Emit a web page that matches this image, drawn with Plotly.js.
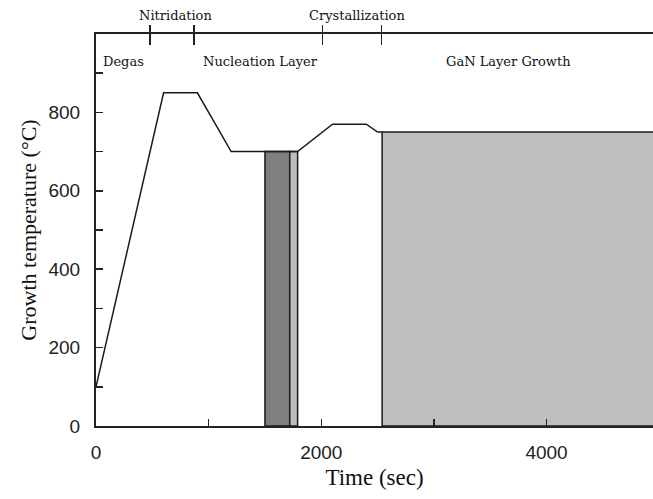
<!DOCTYPE html>
<html>
<head>
<meta charset="utf-8">
<script src="https://cdn.plot.ly/plotly-3.0.1.min.js"></script>
<style>
  html, body { margin: 0; padding: 0; background: #fff; overflow: hidden; }
  #chart { width: 653px; height: 499px; }
</style>
</head>
<body>
<div id="chart"></div>
<script>
// Growth temperature profile (sec, °C)
const profileTime = [0, 600, 900, 1200, 1500, 1720, 1790, 2100, 2400, 2500, 2540];
const profileTemp = [100, 850, 850, 700, 700, 700, 700, 770, 770, 750, 750];

// Shaded growth steps: [start, end] in sec and their temperature
const nucleationStart = [1500, 1720];
const nucleationTemp = 700;
const annealStart = [1720, 1790];
const annealTemp = 700;
const ganStart = [2540, 5000];
const ganTemp = 750;

// Stage boundaries marked on the top axis
const stageBoundaries = [480, 870, 2010, 2535];

// Stage labels
const lowerStages = ["Degas", "Nucleation Layer", "GaN Layer Growth"];
const lowerStageX = [240, 1460, 3660];
const upperStages = ["Nitridation", "Crystallization"];
const upperStageX = [710, 2315];

const xRange = [0, 4945];
const yRange = [0, 1000];

function block(span, temp, color) {
  return {
    x: [span[0], span[0], span[1], span[1], span[0]],
    y: [0, temp, temp, 0, 0],
    type: "scatter",
    mode: "lines",
    fill: "toself",
    fillcolor: color,
    line: { color: "#1a1a1a", width: 1.5 },
    hoverinfo: "skip",
    showlegend: false
  };
}

const traces = [
  block(ganStart, ganTemp, "#bebebe"),
  block(nucleationStart, nucleationTemp, "#7f7f7f"),
  block(annealStart, annealTemp, "#bebebe"),
  {
    x: profileTime,
    y: profileTemp,
    type: "scatter",
    mode: "lines",
    line: { color: "#1a1a1a", width: 1.5 },
    showlegend: false
  },
  // invisible traces to anchor the top overlay axes
  { x: xRange, y: [null, null], xaxis: "x2", yaxis: "y", mode: "lines", showlegend: false, hoverinfo: "skip" },
  { x: xRange, y: [null, null], xaxis: "x3", yaxis: "y", mode: "lines", showlegend: false, hoverinfo: "skip" }
];

const serifLabel = { family: "DejaVu Serif", size: 13, color: "#111" };

const annotations = [];
lowerStages.forEach((t, i) => annotations.push({
  text: t, x: lowerStageX[i], xref: "x", y: 0.93, yref: "paper",
  showarrow: false, font: serifLabel, xanchor: "center", yanchor: "middle"
}));
upperStages.forEach((t, i) => annotations.push({
  text: t, x: upperStageX[i], xref: "x", y: 1.047, yref: "paper",
  showarrow: false, font: serifLabel, xanchor: "center", yanchor: "middle"
}));

const layout = {
  width: 653,
  height: 499,
  margin: { l: 96, r: 0, t: 34, b: 73 },
  paper_bgcolor: "#fff",
  plot_bgcolor: "#fff",
  showlegend: false,
  font: { family: "Liberation Sans", size: 19, color: "#222" },
  xaxis: {
    range: xRange,
    tickvals: [0, 2000, 4000],
    ticks: "inside",
    ticklen: 7,
    tickwidth: 1.5,
    tickcolor: "#222",
    minor: { tickvals: [1000, 3000], ticks: "inside", ticklen: 7, tickwidth: 1.5, tickcolor: "#222" },
    showline: true,
    linecolor: "#222",
    linewidth: 2,
    showgrid: false,
    zeroline: false,
    ticklabelstandoff: 8,
    title: { text: "Time (sec)", font: { family: "Liberation Serif", size: 23, color: "#111" }, standoff: 7 }
  },
  xaxis2: {
    overlaying: "x",
    side: "top",
    range: xRange,
    tickvals: stageBoundaries,
    ticks: "outside",
    ticklen: 7,
    tickwidth: 1.5,
    tickcolor: "#222",
    showticklabels: false,
    showline: true,
    linecolor: "#222",
    linewidth: 2,
    showgrid: false,
    zeroline: false
  },
  xaxis3: {
    overlaying: "x",
    side: "top",
    range: xRange,
    tickvals: stageBoundaries,
    ticks: "inside",
    ticklen: 11,
    tickwidth: 1.5,
    tickcolor: "#222",
    showticklabels: false,
    showline: false,
    showgrid: false,
    zeroline: false
  },
  yaxis: {
    range: yRange,
    tickvals: [0, 200, 400, 600, 800],
    ticks: "inside",
    ticklen: 7,
    tickwidth: 1.5,
    tickcolor: "#222",
    minor: { tickvals: [100, 300, 500, 700, 900], ticks: "inside", ticklen: 7, tickwidth: 1.5, tickcolor: "#222" },
    showline: true,
    linecolor: "#222",
    linewidth: 2,
    showgrid: false,
    zeroline: false,
    ticklabelstandoff: 10,
    title: { text: "Growth temperature (°C)", font: { family: "Liberation Serif", size: 22, color: "#111" }, standoff: 6 }
  },
  annotations: annotations
};

Plotly.newPlot("chart", traces, layout, { staticPlot: true, displayModeBar: false });
</script>
</body>
</html>
